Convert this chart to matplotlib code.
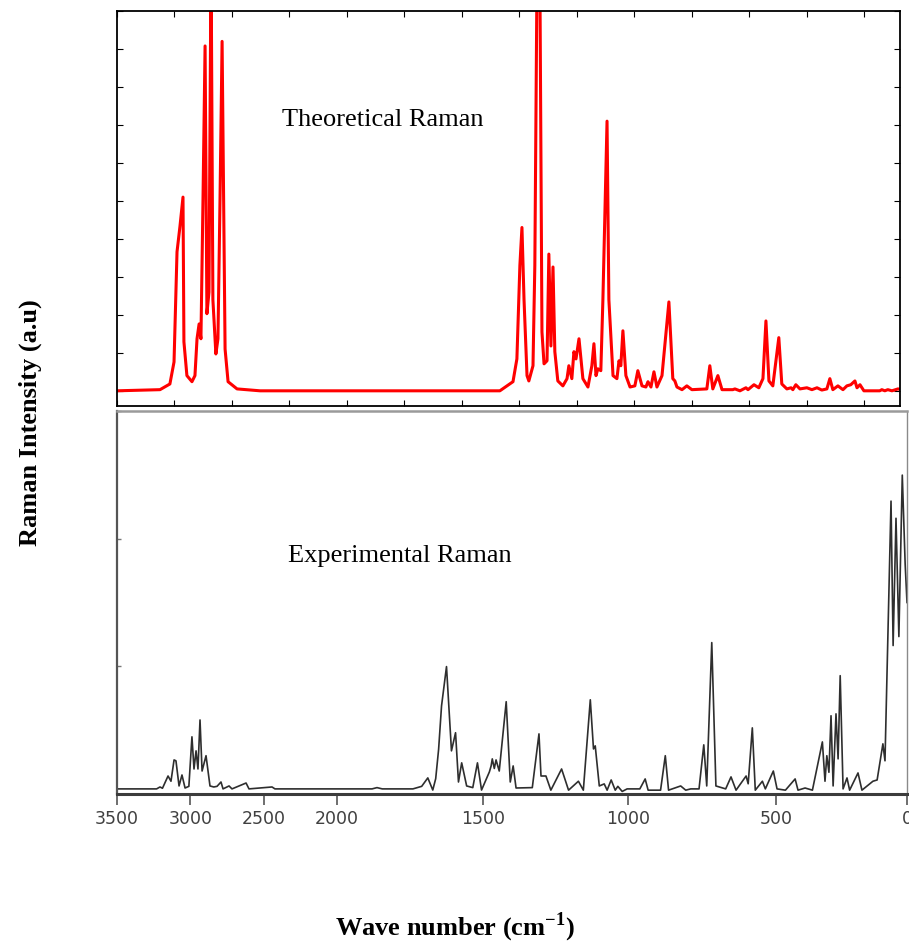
import numpy as np
import matplotlib
matplotlib.use('Agg')
import matplotlib.pyplot as plt

plt.rcParams['font.family'] = ['Liberation Serif', 'DejaVu Serif']
plt.rcParams['mathtext.fontset'] = 'custom'
plt.rcParams['mathtext.rm'] = 'Liberation Serif'
plt.rcParams['mathtext.bf'] = 'Liberation Serif:bold'

# theoretical spectrum (wavenumber, relative intensity)
theo_wn = [3500, 3313, 3270, 3252, 3239, 3226, 3213, 3209, 3196, 3174, 3161, 3152,
           3143, 3135, 3126, 3117, 3109, 3100, 3091, 3083, 3070, 3061, 3052, 3043,
           3035, 3030, 3017, 2978, 2878, 1835, 1778, 1761, 1748, 1739, 1730, 1717,
           1709, 1691, 1683, 1671, 1663, 1652, 1643, 1630, 1622, 1613, 1604, 1596,
           1583, 1561, 1543, 1535, 1522, 1513, 1504, 1491, 1474, 1452, 1435, 1426,
           1417, 1409, 1396, 1387, 1369, 1361, 1343, 1326, 1317, 1309, 1300, 1287,
           1269, 1248, 1235, 1217, 1200, 1191, 1178, 1165, 1152, 1130, 1100, 1083,
           1074, 1065, 1043, 1022, 1000, 935, 922, 909, 887, 869, 822, 813, 791,
           765, 756, 730, 709, 691, 678, 665, 648, 622, 609, 587, 569, 561, 548,
           530, 500, 478, 456, 435, 413, 400, 387, 365, 343, 326, 309, 291, 282,
           269, 252, 183, 174, 161, 148, 130, 104, 95]
theo_int = [0, 0.003, 0.018, 0.076, 0.366, 0.434, 0.51, 0.129, 0.04, 0.024, 0.04, 0.137,
            0.176, 0.137, 0.505, 0.908, 0.203, 0.26, 1.15, 0.24, 0.097, 0.137, 0.505, 0.92,
            0.418, 0.11, 0.024, 0.005, 0, 0, 0.024, 0.084, 0.33, 0.43, 0.24, 0.04,
            0.026, 0.066, 0.33, 1.3, 1.3, 0.155, 0.071, 0.079, 0.36, 0.118, 0.326, 0.103,
            0.026, 0.013, 0.032, 0.066, 0.032, 0.103, 0.084, 0.137, 0.032, 0.01, 0.066, 0.124,
            0.04, 0.058, 0.053, 0.24, 0.71, 0.24, 0.04, 0.032, 0.079, 0.066, 0.158, 0.04,
            0.01, 0.013, 0.053, 0.013, 0.01, 0.024, 0.01, 0.05, 0.01, 0.04, 0.234, 0.032,
            0.026, 0.01, 0.003, 0.013, 0.003, 0.005, 0.066, 0.005, 0.04, 0.003, 0.003, 0.005, 0,
            0.008, 0.003, 0.016, 0.008, 0.032, 0.184, 0.026, 0.013, 0.14, 0.018, 0.005, 0.008, 0.003, 0.016,
            0.005, 0.008, 0.003, 0.008, 0.002, 0.005, 0.032, 0.003, 0.013, 0.003, 0.013, 0.016, 0.026, 0.008,
            0.016, 0, 0, 0.003, 0, 0.003, 0, 0.005, 0.004]

# experimental spectrum (scanned chart)
exp_wn = [3500, 3230, 3207, 3190, 3152, 3132, 3111, 3098, 3077, 3057, 3036, 3010,
          2989, 2975, 2961, 2948, 2934, 2920, 2893, 2866, 2840, 2818, 2791, 2777,
          2736, 2716, 2620, 2600, 2443, 2423, 1880, 1863, 1845, 1740, 1710, 1689,
          1672, 1662, 1652, 1642, 1625, 1608, 1594, 1584, 1573, 1556, 1535, 1519,
          1505, 1478, 1472, 1468, 1461, 1455, 1444, 1420, 1406, 1396, 1386, 1330,
          1307, 1300, 1283, 1266, 1229, 1205, 1171, 1154, 1130, 1119, 1113, 1099,
          1082, 1072, 1058, 1044, 1035, 1020, 1003, 960, 942, 932, 890, 874, 863,
          822, 805, 788, 760, 744, 734, 717, 703, 670, 652, 635, 601, 594, 580,
          570, 546, 536, 509, 496, 464, 427, 416, 389, 361, 323, 313, 306, 298,
          290, 282, 271, 263, 255, 244, 229, 219, 187, 172, 130, 114, 92, 84,
          61, 53, 42, 31, 18, 7, 0]
exp_int = [0.04, 0.04, 0.055, 0.045, 0.141, 0.10, 0.267, 0.26, 0.063, 0.149, 0.047, 0.06,
           0.448, 0.196, 0.338, 0.196, 0.58, 0.18, 0.30, 0.063, 0.055, 0.06, 0.094, 0.04,
           0.063, 0.04, 0.086, 0.04, 0.055, 0.04, 0.04, 0.05, 0.04, 0.04, 0.06, 0.126,
           0.031, 0.12, 0.35, 0.69, 0.998, 0.338, 0.48, 0.094, 0.244, 0.063, 0.05, 0.244,
           0.031, 0.173, 0.22, 0.275, 0.20, 0.267, 0.18, 0.723, 0.094, 0.22, 0.047, 0.05,
           0.471, 0.141, 0.141, 0.03, 0.196, 0.03, 0.10, 0.03, 0.738, 0.353, 0.377, 0.063,
           0.079, 0.03, 0.11, 0.03, 0.06, 0.02, 0.04, 0.04, 0.118, 0.03, 0.03, 0.30, 0.03,
           0.063, 0.03, 0.04, 0.04, 0.385, 0.063, 1.186, 0.063, 0.04, 0.134, 0.03, 0.141, 0.08, 0.518,
           0.03, 0.10, 0.04, 0.18, 0.04, 0.03, 0.118, 0.03, 0.047, 0.03, 0.408, 0.10, 0.30, 0.17,
           0.613, 0.063, 0.628, 0.275, 0.927, 0.04, 0.126, 0.03, 0.165, 0.03, 0.10, 0.11, 0.393, 0.26,
           2.294, 1.163, 2.16, 1.233, 2.498, 1.8, 1.5]

exp_ticks = [3500, 3000, 2500, 2000, 1500, 1000, 500, 0]
exp_ticklabels = ['3500', '3000', '2500', '2000', '1500', '1000', '500', '0']

# the old chart paper is not linear: compressed above 2000 cm-1 and a bit
# below 500 cm-1. knots give the distance (px) from the right edge.
scale_wn = [-5000, 0, 500, 1000, 1500, 2000, 3500, 20000]
scale_px = [-1310, 0, 131, 279, 424, 570, 790, 3210]


def fwd(w):
  return np.interp(np.asarray(w, dtype=float), scale_wn, scale_px)


def inv(u):
  return np.interp(np.asarray(u, dtype=float), scale_px, scale_wn)


W, H = 909, 945
fig = plt.figure(figsize=(W / 100, H / 100), dpi=100)

# top panel: theoretical
ax1 = fig.add_axes([117 / W, 1 - 407 / H, 783 / W, 395 / H])
ax1.plot(theo_wn, theo_int, color='#ff0000', lw=2.2, solid_joinstyle='round')
ax1.set_xticks(np.arange(3500, 95, -250))
ax1.set_yticks(np.arange(0, 1.01, 0.1))
ax1.set_xlim(3500, 95)
ax1.set_ylim(-0.04, 1.0)
ax1.tick_params(direction='in', length=4, width=0.8, top=True, right=True,
                labelbottom=False, labelleft=False)
for s in ax1.spines.values():
  s.set_linewidth(1.3)

# bottom panel: experimental (scanned)
ax2 = fig.add_axes([117 / W, 1 - 795 / H, 790 / W, 383 / H])
ax2.set_xscale('function', functions=(fwd, inv))
ax2.plot(exp_wn, exp_int, color='#2e2e2e', lw=1.2)
ax2.set_xticks(exp_ticks)
ax2.set_xticklabels(exp_ticklabels, fontfamily='DejaVu Sans', fontsize=12.5,
                    color='#404040')
ax2.set_yticks([0, 1, 2, 3])
ax2.set_xlim(3500, 0)
ax2.set_ylim(0, 3)
ax2.tick_params(axis='x', direction='out', length=8, width=1.2, color='#555555', pad=3)
ax2.tick_params(axis='y', direction='in', length=3, width=1.0, color='#777777',
                labelleft=False)
ax2.spines['left'].set_color('#555555')
ax2.spines['left'].set_linewidth(1.6)
ax2.spines['bottom'].set_color('#3c3c3c')
ax2.spines['bottom'].set_linewidth(2.2)
ax2.spines['top'].set_color('#9a9a9a')
ax2.spines['top'].set_linewidth(1.8)
ax2.spines['right'].set_color('#8a8a8a')
ax2.spines['right'].set_linewidth(1.0)

# labels
fig.text(282 / W, 1 - 120 / H, 'Theoretical Raman', fontsize=19, ha='left', va='center')
fig.text(288 / W, 1 - 556 / H, 'Experimental Raman', fontsize=19, ha='left', va='center')
fig.text(30 / W, 1 - 423 / H, 'Raman Intensity (a.u)', fontsize=19, fontweight='bold',
         rotation=90, ha='center', va='center')
fig.text(455 / W, 1 - 927 / H, r'Wave number (cm$^{\mathbf{-1}}$)', fontsize=19,
         fontweight='bold', ha='center', va='center')

fig.savefig('out.png', dpi=100)
